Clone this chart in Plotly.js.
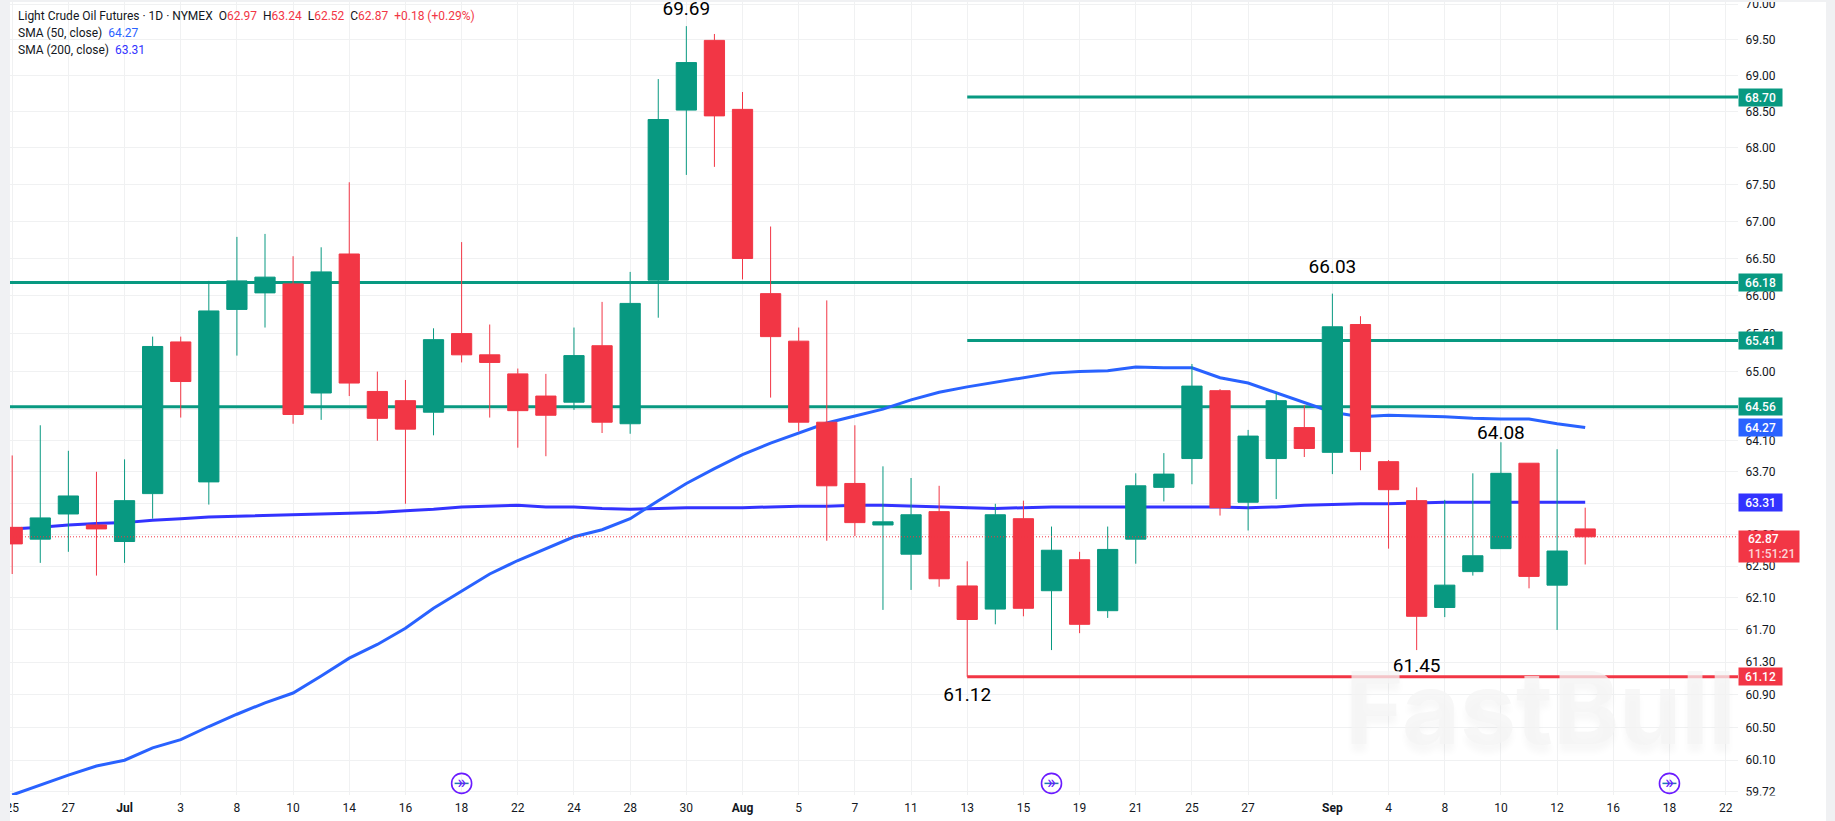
<!DOCTYPE html>
<html><head><meta charset="utf-8">
<script src="https://cdn.plot.ly/plotly-3.0.1.min.js"></script>
<style>html,body{margin:0;padding:0;background:#f0f1f3;width:1835px;height:821px;overflow:hidden}
#c{position:absolute;left:10px;top:2px;width:1816px;height:819px;background:#fff}</style>
</head><body><div id="c"></div>
<script>
var xTickVals=[0,2,4,6,8,10,12,14,16,18,20,22,24,26,28,30,32,34,36,38,40,42,44,47,49,51,53,55,57,59,61];
var xTickText=['25','27','<b>Jul</b>','3','8','10','14','16','18','22','24','28','30','<b>Aug</b>','5','7','11','13','15','19','21','25','27','<b>Sep</b>','4','8','10','12','16','18','22'];
var yTicks=[70,69.5,69,68.5,68,67.5,67,66.5,66,65.5,65,64.5,64.1,63.7,63.3,62.9,62.5,62.1,61.7,61.3,60.9,60.5,60.1,59.72];
var open=[62.99,62.84,63.16,63.02,62.81,63.42,65.39,63.57,65.82,66.04,66.16,64.72,66.56,64.74,64.62,64.47,65.50,65.22,64.97,64.68,64.60,65.34,64.32,66.21,68.52,69.49,68.53,66.03,65.40,64.34,63.55,63.02,62.65,63.19,62.25,61.96,63.10,62.19,62.58,61.94,62.84,63.50,63.87,64.75,63.31,63.87,64.27,63.95,65.62,63.83,63.33,61.98,62.43,62.72,63.81,62.26,62.97];
var high=[63.91,64.30,63.97,63.70,63.86,65.46,65.46,66.20,66.79,66.83,66.53,66.65,67.53,65.00,64.89,65.57,66.72,65.62,65.04,64.97,65.58,65.92,66.32,68.95,69.69,69.58,68.77,66.93,65.58,65.94,64.30,63.77,63.62,63.52,62.56,63.29,63.33,63.00,62.68,63.00,63.68,63.94,65.10,64.77,64.24,64.72,64.56,66.03,65.73,63.85,63.50,63.34,63.68,64.08,63.81,63.99,63.24];
var low=[62.40,62.54,62.68,62.38,62.54,63.10,64.40,63.28,65.21,65.58,64.32,64.37,64.68,64.10,63.29,64.17,65.12,64.40,64.01,63.90,64.50,64.20,64.19,65.71,67.63,67.74,66.22,64.66,64.22,62.82,62.88,61.95,62.20,62.24,61.12,61.77,61.87,61.45,61.66,61.85,62.53,63.32,63.54,63.14,62.95,63.35,63.89,63.67,63.72,62.72,61.45,61.86,62.38,62.72,62.22,61.70,62.52];
var close=[62.78,63.11,63.39,62.97,63.33,65.33,64.87,65.80,66.20,66.25,64.44,66.32,64.85,64.39,64.25,65.42,65.22,65.12,64.49,64.43,65.21,64.34,65.90,68.39,69.18,68.44,66.50,65.46,64.34,63.52,63.05,63.06,63.15,62.34,61.83,63.15,61.97,62.70,61.77,62.71,63.52,63.67,64.81,63.24,64.16,64.62,64.00,65.59,63.96,63.47,61.87,62.26,62.63,63.68,62.37,62.69,62.87];
var sma50=[59.68,59.80,59.92,60.03,60.10,60.25,60.35,60.51,60.66,60.80,60.92,61.13,61.35,61.52,61.72,61.97,62.18,62.40,62.57,62.72,62.87,62.96,63.10,63.33,63.55,63.74,63.92,64.07,64.20,64.33,64.42,64.51,64.63,64.73,64.80,64.86,64.92,64.98,65.00,65.01,65.06,65.05,65.05,64.92,64.85,64.72,64.59,64.47,64.41,64.43,64.42,64.41,64.39,64.38,64.38,64.32,64.27];
var sma200=[62.97,62.99,63.02,63.04,63.05,63.08,63.10,63.12,63.13,63.14,63.15,63.16,63.17,63.18,63.20,63.22,63.25,63.26,63.27,63.25,63.25,63.23,63.22,63.23,63.24,63.24,63.24,63.25,63.26,63.26,63.27,63.27,63.26,63.25,63.24,63.23,63.24,63.25,63.25,63.25,63.25,63.25,63.25,63.25,63.24,63.25,63.27,63.28,63.29,63.29,63.30,63.31,63.31,63.31,63.31,63.31,63.31];
var levelsFull=[66.18,64.54];
var levelsPartial=[68.70,65.41];
var levelSupport=[61.12];
var lastPrice=62.87;
var callouts=['69.69','66.03','64.08','61.45','61.12'];
var calloutBar=[24,47,53,50,34];
var calloutAt=[69.92,66.37,64.19,61.24,60.88];
var eventBars=[16,37,59];
var idx=open.map(function(_,i){return i});

var GREEN='#089981',RED='#F23645',BLUE50='#2962FF',BLUE200='#3333FF',TXT='#131722';
var xr=[-0.078,61.44], yr=[Math.log10(70.03),Math.log10(59.68)].reverse();
var traces=[];
function hline(v,x0,c){traces.push({type:'scatter',mode:'lines',x:[x0,63],y:[v,v],line:{color:c,width:3},hoverinfo:'skip',showlegend:false,xaxis:'x',yaxis:'y'});}
levelsFull.forEach(function(v){hline(v,-2,GREEN)});
levelsPartial.forEach(function(v){hline(v,34,GREEN)});
levelSupport.forEach(function(v){hline(v,34,RED)});
traces.push({type:'scatter',mode:'lines',x:idx,y:sma200,line:{color:BLUE200,width:3},hoverinfo:'skip',xaxis:'x',yaxis:'y',showlegend:false});
traces.push({type:'scatter',mode:'lines',x:idx,y:sma50,line:{color:BLUE50,width:3},hoverinfo:'skip',xaxis:'x',yaxis:'y',showlegend:false});
traces.push({type:'candlestick',x:idx,open:open,high:high,low:low,close:close,xaxis:'x2',yaxis:'y2',whiskerwidth:0,showlegend:false,
  increasing:{line:{color:GREEN,width:1},fillcolor:GREEN},decreasing:{line:{color:RED,width:1},fillcolor:RED}});
traces.push({type:'scatter',mode:'lines',x:[-2,63],y:[lastPrice,lastPrice],line:{color:RED,width:1,dash:'1px,2px'},hoverinfo:'skip',xaxis:'x2',yaxis:'y2',showlegend:false});
traces.push({type:'scatter',mode:'text',x:calloutBar,y:calloutAt,text:callouts,textposition:'middle center',textfont:{family:'Roboto',size:19,color:'#000'},cliponaxis:false,hoverinfo:'skip',xaxis:'x2',yaxis:'y2',showlegend:false});
var evY=eventBars.map(function(){return 59.82});
traces.push({type:'scatter',mode:'markers',x:eventBars,y:evY,marker:{symbol:'line-ew-open',size:10,line:{color:'#6A1BFF',width:1.5}},hoverinfo:'skip',xaxis:'x2',yaxis:'y2',showlegend:false});
traces.push({type:'scatter',mode:'markers+text',x:eventBars,y:evY,text:eventBars.map(function(){return '»'}),textposition:'middle center',textfont:{family:'Roboto',size:19,color:'#6A1BFF'},marker:{symbol:'circle-open',size:20,color:'#6A1BFF',line:{color:'#6A1BFF',width:1.6}},hoverinfo:'skip',xaxis:'x2',yaxis:'y2',showlegend:false});

var anns=[];
function tag(v,txt,c,w,h,al){anns.push({xref:'paper',yref:'y',x:1,y:Math.log10(v),xanchor:'left',yanchor:'middle',text:txt,showarrow:false,bgcolor:c,width:w,height:h,align:al||'center',borderpad:0,font:{family:'Roboto',size:12,weight:500,color:'#fff'}});}
tag(68.70,'68.70',GREEN,43,17);tag(66.18,'66.18',GREEN,43,17);tag(65.41,'65.41',GREEN,43,17);tag(64.54,'64.56',GREEN,43,17);
tag(64.27,'64.27',BLUE50,43,17);tag(63.31,'63.31',BLUE200,43,17);tag(61.12,'61.12',RED,43,17);
tag(lastPrice-0.12,'&nbsp;&nbsp;&nbsp;62.87<br>&nbsp;&nbsp;&nbsp;<span style="color:rgba(255,255,255,.8)">11:51:21</span>',RED,60,31,'left');
var h1='<span style="color:#131722">Light Crude Oil Futures · 1D · NYMEX  O</span><span style="color:#F23645">62.97</span> <span style="color:#131722"> H</span><span style="color:#F23645">63.24</span> <span style="color:#131722"> L</span><span style="color:#F23645">62.52</span> <span style="color:#131722"> C</span><span style="color:#F23645">62.87</span> <span style="color:#F23645"> +0.18 (+0.29%)</span>';
function hdr(t,y){anns.push({xref:'paper',yref:'paper',x:0,xshift:6,y:y,yanchor:'middle',xanchor:'left',text:t,showarrow:false,font:{family:'Roboto',size:12,color:TXT},align:'left'});}
hdr(h1,1-14/793);
hdr('<span style="color:#131722">SMA (50, close)  </span><span style="color:#2962FF">64.27</span>',1-31/793);
hdr('<span style="color:#131722">SMA (200, close)  </span><span style="color:#3333FF">63.31</span>',1-48/793);
anns.push({xref:'paper',yref:'paper',x:1,y:0,yshift:88,xanchor:'right',yanchor:'middle',text:'FastBull',showarrow:false,font:{family:'Inter',size:100,weight:700,color:'rgba(244,244,244,.75)',shadow:'0 8px 6px rgba(0,0,0,.04)'}});
anns.push({xref:'paper',yref:'paper',x:1,y:0,xanchor:'left',yanchor:'top',xshift:1,text:' ',showarrow:false,bgcolor:'#fff',width:60,height:10});

var grid='#f0f1f2';
var layout={width:1816,height:819,margin:{l:0,r:88,t:0,b:26},paper_bgcolor:'#fff',plot_bgcolor:'#fff',showlegend:false,boxgap:0.28,boxgroupgap:0,hovermode:false,dragmode:false,
 xaxis:{type:'linear',range:xr,tickmode:'array',tickvals:xTickVals,ticktext:xTickText,showgrid:true,gridcolor:grid,gridwidth:1,zeroline:false,showline:false,ticks:'outside',ticklen:2,tickcolor:'rgba(0,0,0,0)',tickfont:{family:'Roboto',size:12,color:TXT},ticklabeloverflow:'allow',fixedrange:true},
 yaxis:{type:'log',range:yr,side:'right',tickmode:'array',tickvals:yTicks,ticktext:yTicks.map(function(v){return v.toFixed(2)}),showgrid:true,gridcolor:grid,gridwidth:1,zeroline:false,showline:false,ticks:'outside',ticklen:4,tickcolor:'rgba(0,0,0,0)',tickfont:{family:'Roboto',size:12,color:TXT},ticklabeloverflow:'allow',fixedrange:true},
 xaxis2:{type:'linear',overlaying:'x',range:xr,visible:false,rangeslider:{visible:false},fixedrange:true,anchor:'y2'},
 yaxis2:{type:'log',overlaying:'y',range:yr,visible:false,side:'right',fixedrange:true,anchor:'x2'},
 annotations:anns};
Plotly.newPlot('c',traces,layout,{displayModeBar:false,staticPlot:true});
</script></body></html>
